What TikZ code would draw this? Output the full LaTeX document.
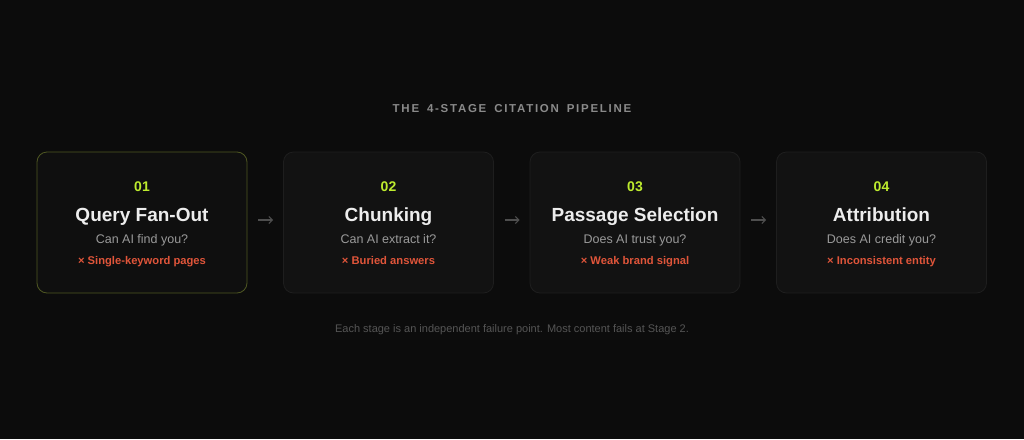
\documentclass[tikz,border=0pt]{standalone}
\usepackage{fontspec}
\setmainfont{Liberation Sans}
\newfontfamily\spacedfont[LetterSpace=15,WordSpace=1.6]{Liberation Sans}
\usetikzlibrary{arrows.meta}
\definecolor{bgc}{HTML}{0C0C0C}
\definecolor{boxfill}{HTML}{121212}
\definecolor{boxline}{HTML}{1E1E1E}
\definecolor{activeline}{HTML}{4E5622}
\definecolor{lime}{HTML}{BDEB2E}
\definecolor{redc}{HTML}{E0553A}
\definecolor{headc}{HTML}{8A8A8A}
\definecolor{subc}{HTML}{9A9A9A}
\definecolor{footc}{HTML}{555555}
\definecolor{arrc}{HTML}{4E4E4E}
\begin{document}
\begin{tikzpicture}[x=1pt,y=-1pt,
  stagebox/.style={draw=boxline,fill=boxfill,line width=0.8pt,rounded corners=10pt,minimum width=210pt,minimum height=141pt,inner sep=0pt},
  numtxt/.style={anchor=base,inner sep=0pt,text=lime,font=\fontsize{14}{16}\selectfont\bfseries},
  titletxt/.style={anchor=base,inner sep=0pt,text=white!93!black,font=\fontsize{19}{22}\selectfont\bfseries},
  subtxt/.style={anchor=base,inner sep=0pt,text=subc,font=\fontsize{12.5}{14}\selectfont},
  failtxt/.style={anchor=base,inner sep=0pt,text=redc,font=\fontsize{11.2}{13}\selectfont\bfseries},
  flow/.style={draw=arrc,line width=1.1pt,-{Straight Barb[length=3.5pt,width=7pt]}}
]
\fill[bgc] (0,0) rectangle (1024,439);
\useasboundingbox (0,0) rectangle (1024,439);

\node[anchor=base,inner sep=0pt,text=headc,font=\spacedfont\fontsize{11.5}{13}\selectfont\bfseries] (head) at (512,112) {THE 4-STAGE CITATION PIPELINE};

\node[stagebox,draw=activeline,fill=boxfill!85!black] (b1) at (142,222.5) {};
\node[stagebox] (b2) at (388.5,222.5) {};
\node[stagebox] (b3) at (635,222.5) {};
\node[stagebox] (b4) at (881.5,222.5) {};

\foreach \b/\n/\t/\s/\f in {b1/01/Query Fan-Out/Can AI find you?/Single-keyword pages,
                             b2/02/Chunking/Can AI extract it?/Buried answers,
                             b3/03/Passage Selection/Does AI trust you?/Weak brand signal,
                             b4/04/Attribution/Does AI credit you?/Inconsistent entity}{
  \path (\b.center) ++(0,-31) node[numtxt] (\b-num) {\n};
  \path (\b.center) ++(0,-1) node[titletxt] (\b-title) {\t};
  \path (\b.center) ++(0,20.5) node[subtxt] (\b-sub) {\s};
  \path (\b.center) ++(0,41.5) node[failtxt] (\b-fail) {× \f};
}

\draw[flow] ([xshift=11pt,yshift=2.5pt]b1.east) -- ([xshift=-10pt,yshift=2.5pt]b2.west);
\draw[flow] ([xshift=11pt,yshift=2.5pt]b2.east) -- ([xshift=-10pt,yshift=2.5pt]b3.west);
\draw[flow] ([xshift=11pt,yshift=2.5pt]b3.east) -- ([xshift=-10pt,yshift=2.5pt]b4.west);

\node[anchor=base,inner sep=0pt,text=footc,font=\fontsize{11}{13}\selectfont] (foot) at (512,332) {Each stage is an independent failure point. Most content fails at Stage 2.};
\end{tikzpicture}
\end{document}
